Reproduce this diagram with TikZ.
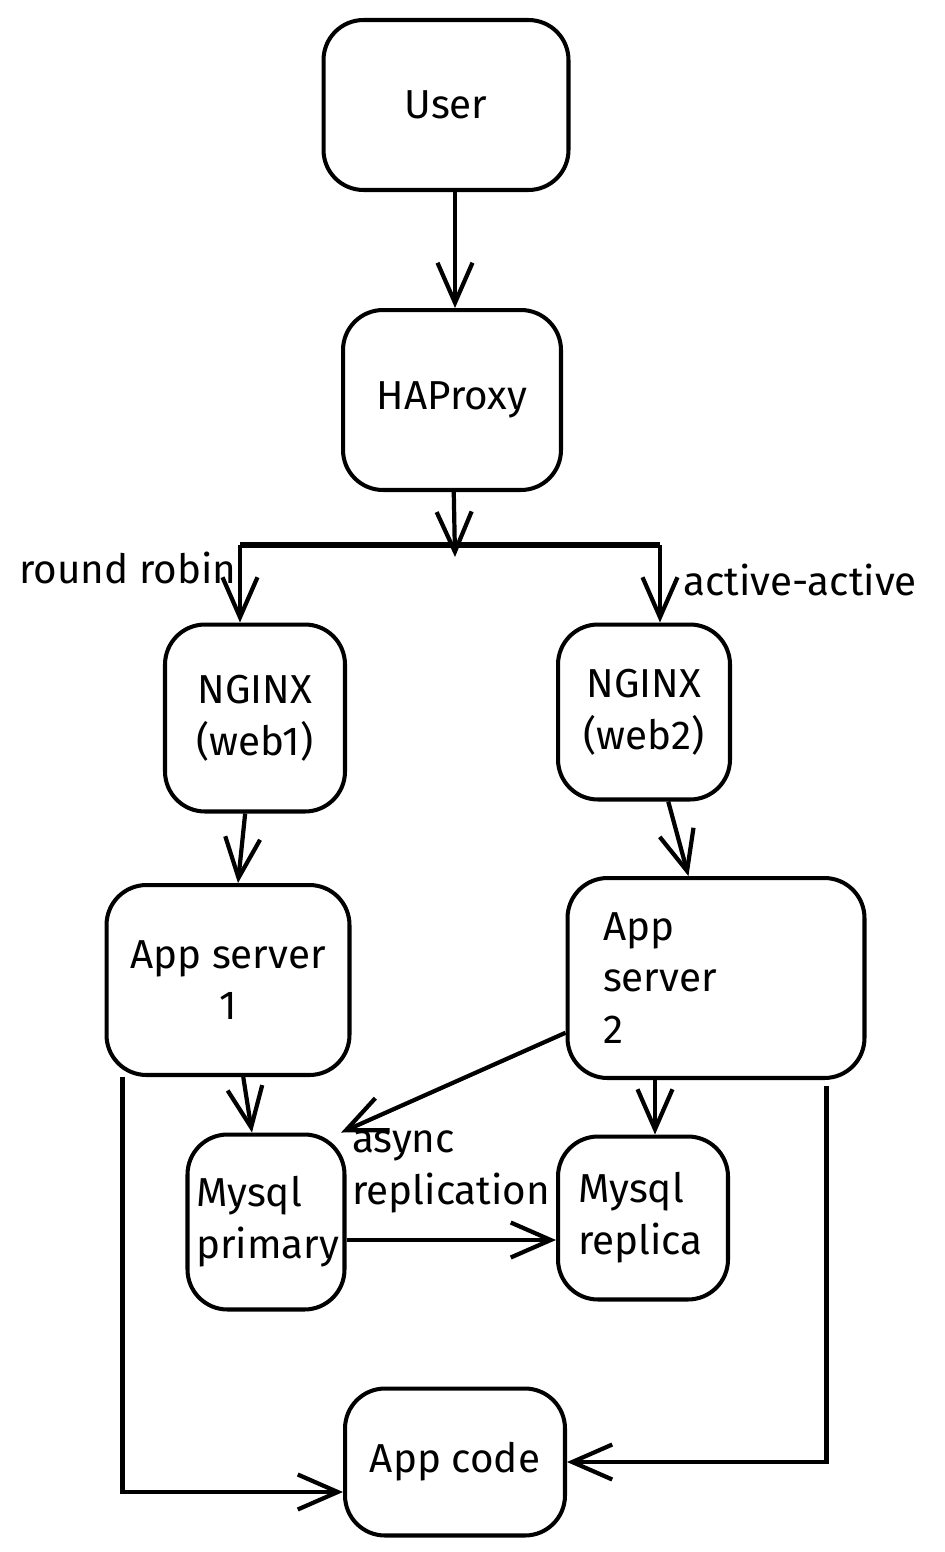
\documentclass[tikz,border=0pt]{standalone}
\usepackage{fontspec}
\setmainfont{Fira Sans}
\usetikzlibrary{arrows.meta}
\newcommand\sketchfont{\fontsize{23}{29.5}\selectfont}

\begin{document}
\begin{tikzpicture}
  [x=0.02cm,y=-0.02cm,
  box/.style={draw,line width=2.3pt,rounded corners=0.8cm,align=center,font=\sketchfont},
  lbl/.style={font=\sketchfont,inner sep=0pt,align=left},
  arr/.style={line width=2.4pt,-{Straight Barb[length=0.8cm,width=0.7cm]}}]
  \useasboundingbox (0,0) rectangle (945,1552);
  % boxes
  \node[box,minimum width=4.9cm,minimum height=3.4cm] (user) at (446,105) {User};
  \node[box,minimum width=4.36cm,minimum height=3.6cm] (hap) at (452,400) {HAProxy};
  \node[box,minimum width=3.6cm,minimum height=3.74cm] (web1) at (255,718) {NGINX\\(web1)};
  \node[box,minimum width=3.44cm,minimum height=3.5cm] (web2) at (644,712) {NGINX\\(web2)};
  \node[box,minimum width=4.86cm,minimum height=3.8cm] (app1) at (228,980) {App server\\1};
  \node[box,minimum width=5.94cm,minimum height=4cm,text width=4.52cm,align=left] (app2) at (716,978) {App\\server\\2};
  \node[box,minimum width=3.14cm,minimum height=3.5cm,text width=2.8cm,align=left] (primary) at (266,1222) {Mysql\\primary};
  \node[box,minimum width=3.4cm,minimum height=3.26cm,text width=2.6cm,align=left] (replica) at (643,1218) {Mysql\\replica};
  \node[box,minimum width=4.4cm,minimum height=2.94cm] (appcode) at (455,1462) {App code};
  % labels
  \node[lbl] (rr) at (128,568) {round robin};
  \node[lbl] (aa) at (800,580) {active-active};
  \node[lbl,anchor=west] (async) at (352,1172) {async\\replication};
  % split below the proxy
  \coordinate (split) at (455,557);
  \coordinate (barL) at (240,545);
  \coordinate (barR) at (660,545);
  \draw[arr] ([xshift=0.06cm]hap.north |- user.south) -- ([xshift=0.06cm]hap.north);
  \draw[arr] (hap) -- (split);
  \draw[line width=3pt] (barL) -- (barR);
  \draw[arr] (barL) -- (barL |- web1.north);
  \draw[arr] (barR) -- (barR |- web2.north);
  \draw[arr] (web1) -- (app1);
  \draw[arr] (web2) -- (app2);
  \draw[arr] (app1) -- (primary);
  \draw[arr] (app2.200) -- (primary.50);
  \draw[arr] ([xshift=0.24cm]replica.north |- app2.south) -- ([xshift=0.24cm]replica.north);
  \draw[arr] ([yshift=-0.36cm]primary.east) -- ([yshift=-0.36cm]primary.east -| replica.west);
  \draw[arr] (app1.south west) ++(18,0) |- ([yshift=-0.6cm]appcode.west);
  \draw[arr] (app2.south east) ++(-40,6) |- (appcode.east);
\end{tikzpicture}
\end{document}
